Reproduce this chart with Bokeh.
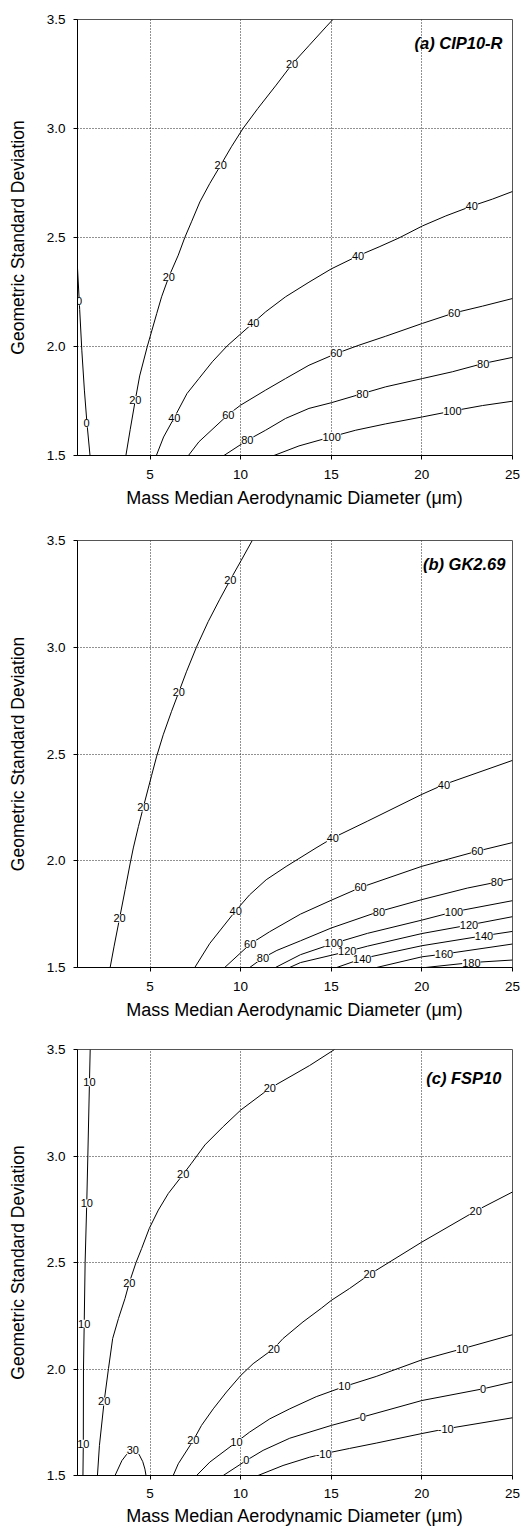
from bokeh.plotting import figure
from bokeh.models import (FixedTicker, PrintfTickFormatter, Label, LabelSet,
                          ColumnDataSource, Range1d)
from bokeh.layouts import column
from bokeh.core.properties import value
from bokeh.embed import file_html
from bokeh.resources import INLINE

FONT = "Liberation Sans"
X_TICKS = [5, 10, 15, 20, 25]
Y_TICKS = [1.5, 2.0, 2.5, 3.0, 3.5]
X_GRID = [5, 10, 15, 20]
Y_GRID = [2.0, 2.5, 3.0]
X_LABEL = "Mass Median Aerodynamic Diameter (\u03bcm)"
Y_LABEL = "Geometric Standard Deviation"
TITLES = ["(a) CIP10-R", "(b) GK2.69", "(c) FSP10"]

# ---------------- panel (a) CIP10-R contour lines ----------------
a0_x = [1.0, 1.12, 1.24, 1.38, 1.52, 1.69]
a0_y = [2.36, 2.17, 1.98, 1.80, 1.65, 1.5]
a20_x = [3.67, 3.91, 4.19, 4.43, 4.85, 5.37, 5.64, 6.04, 6.56, 6.92, 7.29, 7.75, 8.30,
         8.90, 9.49, 10.13, 10.95, 11.96, 12.84, 13.79, 14.71, 15.09]
a20_y = [1.5, 1.62, 1.755, 1.865, 2.0, 2.151, 2.228, 2.32, 2.419, 2.5, 2.572, 2.663, 2.748,
         2.832, 2.916, 3.0, 3.092, 3.199, 3.295, 3.382, 3.466, 3.5]
a40_x = [5.35, 5.75, 6.34, 7.04, 7.70, 8.44, 9.26, 10.70, 11.38, 12.48, 13.77, 15.0,
         16.48, 17.64, 18.74, 20.03, 21.32, 22.75, 23.89, 25.0]
a40_y = [1.5, 1.585, 1.674, 1.784, 1.853, 1.930, 2.003, 2.109, 2.159, 2.228, 2.295, 2.356,
         2.416, 2.457, 2.498, 2.553, 2.599, 2.644, 2.676, 2.711]
a60_x = [7.12, 7.70, 9.32, 10.0, 11.38, 12.48, 13.77, 15.28, 16.53, 18.0, 20.03, 21.78, 23.34, 25.0]
a60_y = [1.5, 1.563, 1.688, 1.731, 1.800, 1.853, 1.914, 1.968, 2.006, 2.047, 2.106, 2.154, 2.185, 2.220]
a80_x = [9.08, 10.37, 11.38, 12.48, 13.77, 15.0, 16.72, 18.0, 20.03, 21.68, 23.38, 25.0]
a80_y = [1.5, 1.570, 1.616, 1.670, 1.716, 1.742, 1.784, 1.815, 1.853, 1.884, 1.922, 1.950]
a100_x = [11.84, 13.22, 15.02, 16.35, 18.0, 20.03, 21.68, 23.34, 25.0]
a100_y = [1.5, 1.544, 1.586, 1.616, 1.645, 1.677, 1.704, 1.729, 1.749]
a_lab_x = [1.09, 1.50, 4.19, 6.04, 8.90, 12.84, 6.34, 10.70, 16.48, 22.75,
           9.32, 15.28, 21.78, 10.37, 16.72, 23.38, 15.02, 21.68]
a_lab_y = [2.207, 1.648, 1.755, 2.32, 2.832, 3.295, 1.674, 2.109, 2.416, 2.644,
           1.688, 1.968, 2.154, 1.570, 1.784, 1.922, 1.586, 1.704]
a_lab_t = ["0", "0", "20", "20", "20", "20", "40", "40", "40", "40",
           "60", "60", "60", "80", "80", "80", "100", "100"]

# ---------------- panel (b) GK2.69 contour lines ----------------
b20_x = [2.80, 3.02, 3.32, 3.63, 3.90, 4.08, 4.36, 4.63, 5.09, 5.37, 5.73, 6.19, 6.59,
         7.01, 7.56, 8.21, 8.85, 9.43, 10.04, 10.64]
b20_y = [1.5, 1.60, 1.73, 1.865, 1.985, 2.06, 2.16, 2.25, 2.40, 2.49, 2.59, 2.70, 2.79,
         2.885, 3.0, 3.12, 3.225, 3.316, 3.408, 3.5]
b40_x = [7.47, 8.30, 9.73, 10.49, 11.41, 12.51, 14.16, 15.09, 16.99, 20.0, 21.22, 25.0]
b40_y = [1.5, 1.613, 1.766, 1.84, 1.911, 1.973, 2.060, 2.107, 2.185, 2.311, 2.357, 2.47]
b60_x = [9.12, 10.53, 11.59, 13.3, 15.0, 16.62, 20.0, 23.06, 25.0]
b60_y = [1.5, 1.61, 1.667, 1.75, 1.815, 1.875, 1.974, 2.045, 2.085]
b80_x = [10.5, 11.23, 12.0, 13.3, 15.0, 17.63, 20.0, 22.51, 24.14, 25.0]
b80_y = [1.5, 1.545, 1.58, 1.625, 1.685, 1.762, 1.818, 1.872, 1.90, 1.915]
b100_x = [11.92, 13.3, 15.14, 17.0, 20.0, 21.77, 25.0]
b100_y = [1.5, 1.56, 1.613, 1.66, 1.722, 1.761, 1.813]
b120_x = [12.7, 13.3, 15.88, 17.0, 20.0, 22.6, 25.0]
b120_y = [1.5, 1.523, 1.575, 1.60, 1.659, 1.699, 1.738]
b140_x = [15.3, 16.71, 20.0, 23.43, 25.0]
b140_y = [1.5, 1.542, 1.602, 1.649, 1.669]
b160_x = [17.5, 20.0, 21.22, 25.0]
b160_y = [1.5, 1.55, 1.563, 1.61]
b180_x = [20.2, 22.73, 25.0]
b180_y = [1.5, 1.523, 1.535]
b_lab_x = [3.32, 4.63, 6.59, 9.43, 9.73, 15.09, 21.22, 10.53, 16.62, 23.06,
           11.23, 17.63, 24.14, 15.14, 21.77, 15.88, 22.6, 16.71, 23.43, 21.22, 22.73]
b_lab_y = [1.73, 2.25, 2.79, 3.316, 1.766, 2.107, 2.357, 1.61, 1.875, 2.045,
           1.545, 1.762, 1.9, 1.613, 1.761, 1.575, 1.699, 1.542, 1.649, 1.563, 1.523]
b_lab_t = ["20", "20", "20", "20", "40", "40", "40", "60", "60", "60",
           "80", "80", "80", "100", "100", "120", "120", "140", "140", "160", "180"]

# ---------------- panel (c) FSP10 contour lines ----------------
c10a_x = [1.70, 1.66, 1.57, 1.51, 1.42, 1.37, 1.33, 1.32, 1.30]
c10a_y = [3.5, 3.346, 3.0, 2.777, 2.5, 2.213, 2.0, 1.649, 1.5]
c20a_x = [2.10, 2.21, 2.47, 2.71, 2.94, 3.26, 3.62, 3.86, 4.23, 4.54, 4.96, 5.46, 6.01,
          6.83, 7.29, 8.03, 9.04, 10.01, 11.61, 12.89, 13.81, 15.18]
c20a_y = [1.5, 1.641, 1.848, 2.002, 2.143, 2.237, 2.331, 2.406, 2.5, 2.566, 2.66, 2.746, 2.824,
          2.914, 2.966, 3.052, 3.138, 3.216, 3.318, 3.38, 3.425, 3.5]
c30_x = [3.07, 3.45, 3.72, 4.05, 4.39, 4.60, 4.72, 4.78]
c30_y = [1.5, 1.57, 1.60, 1.625, 1.60, 1.565, 1.53, 1.5]
c20b_x = [6.28, 6.56, 7.39, 7.84, 8.49, 9.22, 10.01, 10.69, 11.83, 12.34, 13.44, 14.45,
          15.0, 16.01, 17.11, 20.0, 22.97, 25.0]
c20b_y = [1.5, 1.555, 1.665, 1.735, 1.813, 1.892, 1.970, 2.025, 2.096, 2.143, 2.221, 2.285,
          2.322, 2.378, 2.444, 2.596, 2.742, 2.831]
c10b_x = [7.57, 8.30, 9.77, 10.50, 11.61, 12.71, 14.17, 15.73, 17.48, 20.0, 22.23, 25.0]
c10b_y = [1.5, 1.563, 1.657, 1.704, 1.766, 1.813, 1.870, 1.918, 1.965, 2.043, 2.095, 2.161]
c0_x = [9.04, 10.32, 11.24, 12.71, 15.0, 16.74, 20.0, 23.38, 25.0]
c0_y = [1.5, 1.571, 1.618, 1.675, 1.735, 1.775, 1.852, 1.907, 1.939]
cm10_x = [10.96, 12.34, 13.81, 14.58, 16.01, 17.48, 20.0, 21.32, 25.0]
cm10_y = [1.5, 1.547, 1.586, 1.602, 1.627, 1.652, 1.697, 1.719, 1.771]
c_lab_x = [1.66, 1.51, 1.37, 1.32, 2.47, 3.86, 6.83, 11.61, 4.05, 7.39, 11.83, 17.11, 22.97,
           9.77, 15.73, 22.23, 10.32, 16.74, 23.38, 14.58, 21.32]
c_lab_y = [3.346, 2.777, 2.213, 1.649, 1.848, 2.406, 2.914, 3.318, 1.618, 1.665, 2.096, 2.444, 2.742,
           1.657, 1.918, 2.095, 1.571, 1.775, 1.907, 1.602, 1.719]
c_lab_t = ["10", "10", "10", "10", "20", "20", "20", "20", "30", "20", "20", "20", "20",
           "10", "10", "10", "0", "0", "0", "-10", "-10"]


def make_panel(xs, ys, lab_x, lab_y, lab_t, title, tx, ty, height, top, bottom,
               tick_std=10, lab_std=6):
    p = figure(width=525, height=height, x_range=Range1d(1, 25), y_range=Range1d(1.5, 3.5),
               output_backend="svg", toolbar_location=None, title=None,
               min_border_left=77, min_border_right=13, min_border_top=top,
               min_border_bottom=bottom)
    p.background_fill_color = "white"
    p.border_fill_color = "white"
    p.outline_line_color = "#555555"
    p.outline_line_width = 1

    p.xaxis.ticker = FixedTicker(ticks=X_TICKS)
    p.yaxis.ticker = FixedTicker(ticks=Y_TICKS)
    p.xaxis.formatter = PrintfTickFormatter(format="%d")
    p.yaxis.formatter = PrintfTickFormatter(format="%.1f")
    p.xaxis.axis_label = X_LABEL
    p.yaxis.axis_label = Y_LABEL
    for ax in (p.xaxis[0], p.yaxis[0]):
        ax.axis_line_color = "black"
        ax.axis_line_width = 1
        ax.major_tick_line_color = "black"
        ax.major_tick_out = 4
        ax.major_tick_in = 0
        ax.minor_tick_line_color = None
        ax.major_label_text_font = FONT
        ax.major_label_text_font_size = "13.5px"
        ax.major_label_text_color = "black"
        ax.axis_label_text_font = FONT
        ax.axis_label_text_font_size = "18px"
        ax.axis_label_text_font_style = "normal"
        ax.axis_label_text_color = "black"
        ax.level = "overlay"
    p.yaxis.axis_label_text_font_size = "17.5px"
    p.xaxis.major_label_standoff = tick_std
    p.xaxis.axis_label_standoff = lab_std
    p.yaxis.major_label_standoff = 8
    p.yaxis.axis_label_standoff = 16

    p.xgrid.ticker = FixedTicker(ticks=X_GRID)
    p.ygrid.ticker = FixedTicker(ticks=Y_GRID)
    for g in (p.xgrid[0], p.ygrid[0]):
        g.grid_line_color = "#222222"
        g.grid_line_dash = "1 2"
        g.grid_line_width = 1

    p.multi_line(xs=xs, ys=ys, line_color="black", line_width=1)

    src = ColumnDataSource(dict(x=lab_x, y=lab_y, t=lab_t))
    labels = LabelSet(x="x", y="y", text="t", source=src, text_align="center",
                      text_baseline="middle", text_font=value(FONT),
                      text_font_size=value("11px"), text_color="black",
                      background_fill_color="white")
    p.add_layout(labels)

    p.add_layout(Label(x=tx, y=ty, text=title, text_align="right",
                       text_baseline="alphabetic", text_font=FONT,
                       text_font_size="16.5px", text_font_style="bold italic",
                       text_color="black"))
    return p


pa = make_panel([a0_x, a20_x, a40_x, a60_x, a80_x, a100_x],
                [a0_y, a20_y, a40_y, a60_y, a80_y, a100_y],
                a_lab_x, a_lab_y, a_lab_t, TITLES[0], 24.45, 3.394, 518, 19, 63)
pb = make_panel([b20_x, b40_x, b60_x, b80_x, b100_x, b120_x, b140_x, b160_x, b180_x],
                [b20_y, b40_y, b60_y, b80_y, b100_y, b120_y, b140_y, b160_y, b180_y],
                b_lab_x, b_lab_y, b_lab_t, TITLES[1], 24.61, 3.392, 519, 22, 70)
pc = make_panel([c10a_x, c20a_x, c30_x, c20b_x, c10b_x, c0_x, cm10_x],
                [c10a_y, c20a_y, c30_y, c20b_y, c10b_y, c0_y, cm10_y],
                c_lab_x, c_lab_y, c_lab_t, TITLES[2], 24.39, 3.366, 491, 12, 53,
                tick_std=9, lab_std=5)

layout = column(pa, pb, pc, spacing=0)
open("out.html", "w").write(file_html(layout, INLINE))
